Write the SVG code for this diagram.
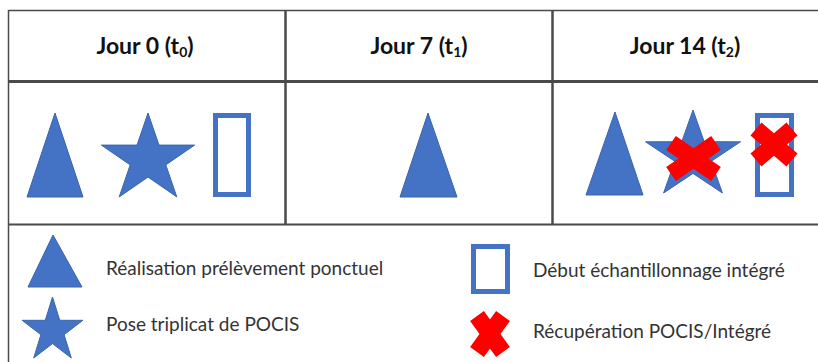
<svg xmlns="http://www.w3.org/2000/svg" width="818" height="362" viewBox="0 0 818 362">
<style>
.grid{stroke:#4a4a4a;fill:none}
.blue{fill:#4472C4;stroke:#3A64AE;stroke-width:1}
.box{fill:none;stroke:#4472C4;stroke-width:5}
.cross{stroke:#FF0000;stroke-width:17;stroke-linecap:butt}
.hdr{font-family:Lato,"Liberation Sans",sans-serif;font-weight:bold;font-size:23px;fill:#111;text-anchor:middle}
.leg{font-family:Lato,"Liberation Sans",sans-serif;font-size:19px;fill:#333}
</style>
<rect width="818" height="362" fill="#fff"/>
<g id="table">
<line class="grid" x1="8.5" y1="10.5" x2="818" y2="10.5" stroke-width="1.5"/>
<line class="grid" x1="8.5" y1="10" x2="8.5" y2="362" stroke-width="1.5"/>
<line class="grid" x1="8" y1="81.5" x2="818" y2="81.5" stroke-width="3" stroke="#666"/>
<line class="grid" x1="8" y1="224.5" x2="818" y2="224.5" stroke-width="2"/>
<line class="grid" x1="285.5" y1="10" x2="285.5" y2="225" stroke-width="2.5" stroke="#555"/>
<line class="grid" x1="552.5" y1="10" x2="552.5" y2="225" stroke-width="2.5" stroke="#555"/>
</g>
<g id="headers">
<text class="hdr" x="145" y="54">Jour 0 (t<tspan font-size="14" dy="3">0</tspan><tspan dy="-3">)</tspan></text>
<text class="hdr" x="419" y="54">Jour 7 (t<tspan font-size="14" dy="3">1</tspan><tspan dy="-3">)</tspan></text>
<text class="hdr" x="685" y="54">Jour 14 (t<tspan font-size="14" dy="3">2</tspan><tspan dy="-3">)</tspan></text>
</g>
<g id="day0">
<polygon class="blue" points="55,113 27,197 83,197"/>
<polygon class="blue" points="148,113 159,145.1 194.6,145.1 165.8,164.9 176.8,196.9 148,177.1 119.2,196.9 130.2,164.9 101.4,145.1 137,145.1"/>
<rect class="box" x="215.5" y="115.5" width="33" height="79"/>
</g>
<g id="day7">
<polygon class="blue" points="428,113 400,197 457,197"/>
</g>
<g id="day14">
<polygon class="blue" points="615,112 586,195 643,195"/>
<polygon class="blue" points="693,110 704.2,141.7 740.5,141.8 711.2,161.3 722.4,193 693,173.4 663.6,193 674.8,161.3 645.5,141.8 681.8,141.7"/>
<rect class="box" x="757.5" y="115.5" width="34" height="79"/>
<line class="cross" x1="671" y1="143" x2="716" y2="174"/>
<line class="cross" x1="716" y1="143" x2="671" y2="174"/>
<line class="cross" x1="756" y1="129" x2="792" y2="160"/>
<line class="cross" x1="792" y1="129" x2="756" y2="160"/>
</g>
<g id="legend">
<polygon class="blue" points="53,235 28,287 82,287"/>
<text class="leg" x="106" y="275">Réalisation prélèvement ponctuel</text>
<polygon class="blue" points="52.5,297 59.7,320.3 82.9,320.3 64.1,334.7 71.3,358 52.5,343.6 33.7,358 40.9,334.7 22.1,320.3 45.3,320.3"/>
<text class="leg" x="106" y="331">Pose triplicat de POCIS</text>
<rect class="box" x="473.5" y="246.5" width="34" height="45"/>
<text class="leg" x="533" y="277">Début échantillonnage intégré</text>
<line class="cross" x1="477" y1="316" x2="503" y2="352"/>
<line class="cross" x1="503" y1="316" x2="477" y2="352"/>
<text class="leg" x="533" y="338">Récupération POCIS/Intégré</text>
</g>
</svg>
